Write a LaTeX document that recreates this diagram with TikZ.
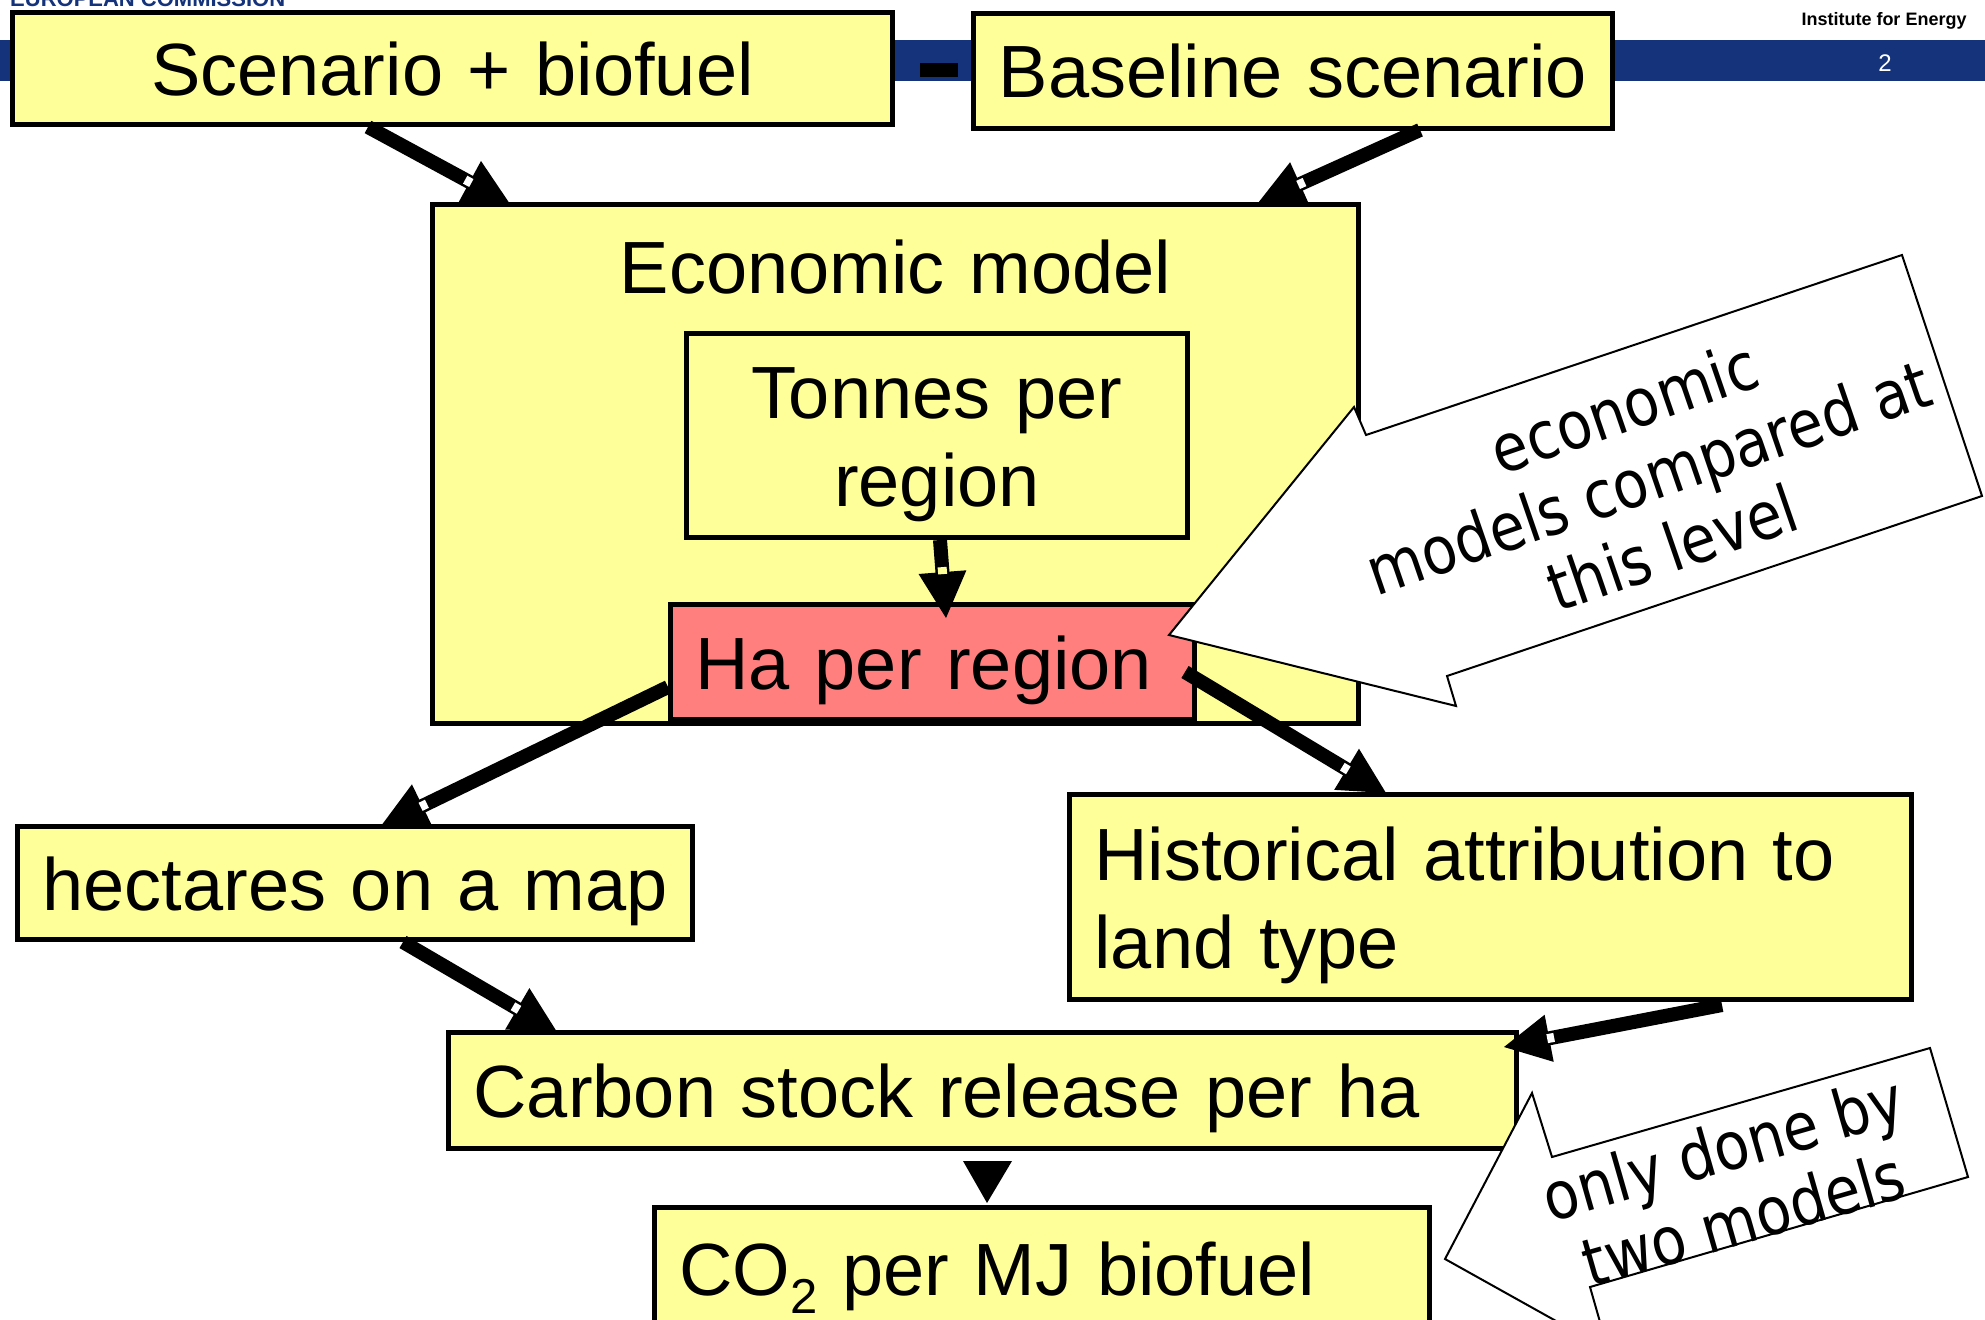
\documentclass[tikz,border=0pt]{standalone}
\usepackage{fontspec}
\setmainfont{Liberation Sans}
\newfontfamily\callfont[FakeStretch=0.87]{DejaVu Sans}
\usetikzlibrary{calc}
\definecolor{yfill}{HTML}{FFFF99}
\definecolor{rfill}{HTML}{FF7F7F}
\definecolor{navy}{RGB}{20,51,122}
\newcommand{\fatarrow}[3][white]{%
  \coordinate (aS) at #2;
  \coordinate (aT) at #3;
  \coordinate (aB) at ($(aT)!46pt!(aS)$);
  \draw[shaft] (aS) -- ($(aT)!40pt!(aS)$);
  \fill ($(aB)!24pt!90:(aT)$) -- (aT) -- ($(aB)!24pt!-90:(aT)$) -- cycle;
  \draw[notch, draw=#1] ($(aT)!44pt!(aS)$) -- ($(aT)!51pt!(aS)$);
}
\begin{document}
\begin{tikzpicture}[x=1pt, y=-1pt,
  box/.style={draw=black, line width=5pt, fill=yfill, anchor=north west,
    inner xsep=25pt, inner ysep=0pt, font=\fontsize{74}{88}\selectfont,
    text height=54pt, text depth=0pt},
  shaft/.style={line width=14pt, line cap=butt},
  notch/.style={line width=9pt, line cap=butt},
  callout/.style={draw=black, fill=white, line width=2pt, line join=miter},
  callout text/.style={font=\callfont\fontsize{66}{74}\selectfont, align=center, inner sep=0pt}]
\useasboundingbox (0,0) rectangle (1985,1319);
\clip (0,0) rectangle (1985,1319);
\fill[white] (0,0) rectangle (1985,1319);
% header
\fill[navy] (0,40) rectangle (1985,81);
\node[navy, font=\bfseries\fontsize{22}{22}\selectfont, anchor=base west, inner sep=0pt] (ec) at (10,7) {EUROPEAN COMMISSION};
\node[font=\bfseries\fontsize{18}{18}\selectfont, anchor=base, inner sep=0pt] (inst) at (1884,26) {Institute for Energy};
\node[white, font=\fontsize{24}{24}\selectfont, anchor=base, inner sep=0pt] (pnum) at (1885,72) {2};
% boxes
\node[box, text width=876pt, minimum height=519pt, align=center, text height=89pt, text depth=430pt] (econ) at (430,202) {Economic model};
\node[box, text width=451pt, minimum height=204pt, align=center, text depth=88pt] (tonnes) at (684,331) {Tonnes per\\region};
\node[box, fill=rfill, text width=474pt, minimum height=115pt, align=left] (ha) at (668,602) {\mbox{Ha per region}};
\node[box, text width=830pt, minimum height=112pt, align=center] (scen) at (10,10) {Scenario + biofuel};
\node[fill=black, minimum width=38pt, minimum height=14pt, inner sep=0pt] (minus) at (939,70) {};
\node[box, inner xsep=10pt, text width=619pt, minimum height=115pt, align=center] (base) at (971,11) {Baseline scenario};
\node[box, text width=625pt, minimum height=113pt, align=left] (hect) at (15,824) {\mbox{hectares on a map}};
\node[box, text width=792pt, minimum height=205pt, align=left, text depth=88pt] (hist) at (1067,792) {Historical attribution to\\land type};
\node[box, text width=1018pt, minimum height=116pt, align=left] (carbon) at (446,1030) {\mbox{Carbon stock release per ha}};
\node[box, text width=725pt, minimum height=135pt, align=left, text height=88pt, text depth=47pt] (co2) at (652,1205) {\mbox{CO\raisebox{-18pt}{\fontsize{49}{49}\selectfont 2} per MJ biofuel}};
% connectors
\fatarrow{($(scen.south west)+(358,0)$)}{($(econ.north west)+(80,2)$)}
\fatarrow{($(base.south west)+(449,-1)$)}{($(econ.north west)+(828,1)$)}
\fatarrow[yfill]{($(tonnes.south west)+(256,0)$)}{($(ha.north west)+(278,16)$)}
\fatarrow{($(ha.south west)+(0,-35)$)}{($(hect.north west)+(366,2)$)}
\fatarrow{($(ha.south east)+(-12,-50)$)}{($(hist.north west)+(319,1)$)}
\fatarrow{($(hect.south west)+(388,0)$)}{($(carbon.north west)+(111,2)$)}
\fatarrow{($(hist.south west)+(655,3)$)}{($(carbon.north east)+(-15,17)$)}
\fill ($(carbon.south west)+(517,10)$) -- ($(carbon.south west)+(566,10)$) -- ($(co2.north west)+(335,-2)$) -- cycle;
% callouts
\draw[callout] (1366,435) -- (1902,255) -- (1982,496) -- (1447,676) -- (1456,706) -- (1169,635) -- (1354,407) -- cycle;
\node[callout text, rotate=19] (note1) at (1648,477) {economic\\models compared at\\this level};
\draw[callout] (1552,1157) -- (1930,1048) -- (1968,1177) -- (1590,1287) -- (1608,1350) -- (1445,1259) -- (1532,1093) -- cycle;
\node[callout text, rotate=16] (note2) at (1733,1183) {only done by\\two models};
\end{tikzpicture}
\end{document}
